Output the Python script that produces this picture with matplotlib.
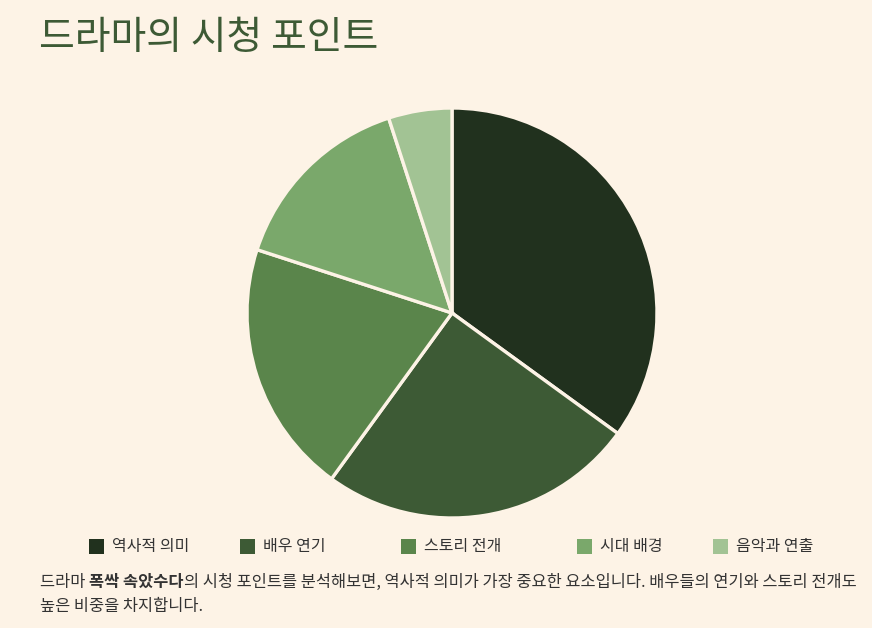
import matplotlib
matplotlib.use("Agg")
import matplotlib.pyplot as plt
from matplotlib.patches import Rectangle

plt.rcParams['font.family'] = ['Noto Sans CJK KR', 'DejaVu Sans']

# ---- data ----
labels = ["역사적 의미", "배우 연기", "스토리 전개", "시대 배경", "음악과 연출"]
values = [35, 25, 20, 15, 5]
colors = ["#21311e", "#3d5a35", "#5a854b", "#7aa86b", "#a2c394"]

title = "드라마의 시청 포인트"
note_parts = [("드라마 ", "normal"), ("폭싹 속았수다", "bold"),
              ("의 시청 포인트를 분석해보면, 역사적 의미가 가장 중요한 요소입니다. "
               "배우들의 연기와 스토리 전개도", "normal")]
note_line2 = "높은 비중을 차지합니다."
# --------------

BG = "#fdf3e6"
W, H = 872, 628

fig = plt.figure(figsize=(W / 100, H / 100), dpi=100, facecolor=BG)

def fx(px):
    return px / W

def fy(py):
    return 1 - py / H

fig.text(fx(39), fy(38), title, fontsize=28, color="#3d5a35",
         weight="light", va="center", ha="left")

# pie: center (452, 313), radius 205 px
r = 205
ax = fig.add_axes([fx(452 - r), fy(313 + r), 2 * r / W, 2 * r / H])
ax.set_facecolor(BG)
ax.pie(values, colors=colors, startangle=90, counterclock=False, radius=1,
       wedgeprops=dict(edgecolor=BG, linewidth=2.4))
ax.set_xlim(-1.0, 1.0)
ax.set_ylim(-1.0, 1.0)
ax.set_aspect("equal")
ax.axis("off")

# legend row
marker_x = [89, 240, 401, 577, 713]
for lbl, col, mx in zip(labels, colors, marker_x):
    fig.patches.append(Rectangle((fx(mx), fy(554)), 15 / W, 15 / H,
                                 transform=fig.transFigure, facecolor=col,
                                 edgecolor="none"))
    fig.text(fx(mx + 23), fy(546), lbl, fontsize=11.5, color="#333333",
             va="center", ha="left")

# note text with bold drama title
renderer = fig.canvas.get_renderer()
x = fx(40)
for txt, wt in note_parts:
    t = fig.text(x, fy(582), txt, fontsize=11.8, color="#333333",
                 weight=wt, va="center", ha="left")
    bb = t.get_window_extent(renderer)
    x = bb.x1 / fig.bbox.width
fig.text(fx(40), fy(606), note_line2, fontsize=11.8, color="#333333",
         va="center", ha="left")

fig.savefig("out.png", dpi=100, facecolor=BG)
